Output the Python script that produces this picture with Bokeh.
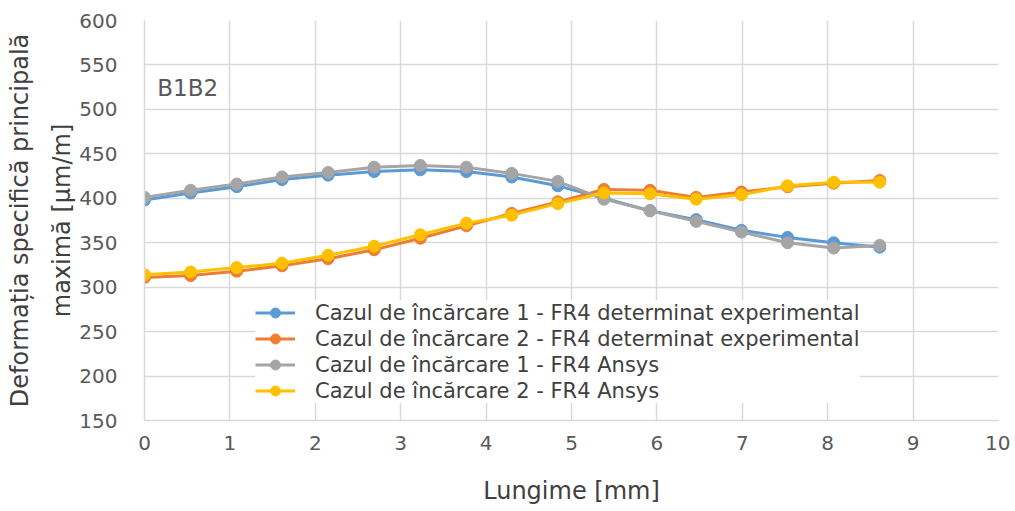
from bokeh.plotting import figure
from bokeh.models import Range1d, Label, SingleIntervalTicker, Legend, LegendItem
from bokeh.embed import file_html
from bokeh.resources import INLINE

# Data
x_mm = [0, 0.54, 1.08, 1.61, 2.15, 2.69, 3.23, 3.77, 4.30, 4.84, 5.38, 5.92, 6.46, 6.99, 7.53, 8.07, 8.61]
exp_case1 = [398, 406, 413, 421, 426, 430, 432, 430, 424, 414, 400, 386, 376, 364, 356, 350, 345]
exp_case2 = [311, 313, 318, 324, 332, 342, 355, 369, 383, 396, 410, 409, 401, 407, 413, 417, 420]
ansys_case1 = [401, 409, 416, 424, 429, 435, 437, 435, 428, 419, 399, 386, 374, 362, 350, 344, 347]
ansys_case2 = [314, 317, 322, 327, 336, 346, 359, 372, 381, 394, 406, 405, 399, 404, 414, 418, 418]

labels = [
    "Cazul de încărcare 1 - FR4 determinat experimental",
    "Cazul de încărcare 2 - FR4 determinat experimental",
    "Cazul de încărcare 1 - FR4 Ansys",
    "Cazul de încărcare 2 - FR4 Ansys",
]
colors = ["#5B9BD5", "#ED7D31", "#A5A5A5", "#FFC000"]
series = [exp_case1, exp_case2, ansys_case1, ansys_case2]

FONT = "DejaVu Sans"

p = figure(width=1010, height=508, output_backend="svg", toolbar_location=None,
           x_range=Range1d(0, 10), y_range=Range1d(150, 600),
           min_border_left=144, min_border_right=12, min_border_top=20, min_border_bottom=88)
p.outline_line_color = None
p.background_fill_color = "white"
p.border_fill_color = "white"

for ax in (p.xaxis[0], p.yaxis[0]):
    ax.axis_line_color = "#D9D9D9"
    ax.axis_line_width = 1.5
    ax.major_tick_line_color = None
    ax.minor_tick_line_color = None
    ax.major_label_text_font = FONT
    ax.major_label_text_font_size = "20px"
    ax.major_label_text_color = "#595959"
    ax.axis_label_text_font = FONT
    ax.axis_label_text_font_size = "24px"
    ax.axis_label_text_font_style = "normal"
    ax.axis_label_text_color = "#404040"

p.xaxis.ticker = SingleIntervalTicker(interval=1)
p.yaxis.ticker = SingleIntervalTicker(interval=50)
p.xaxis.major_label_standoff = 9
p.yaxis.major_label_standoff = 21
p.xaxis.axis_label = "Lungime [mm]"
p.xaxis.axis_label_standoff = 24
p.yaxis.axis_label = "Deformația specifică principală\nmaximă [µm/m]"
p.yaxis.axis_label_text_line_height = 1.5
p.yaxis.axis_label_standoff = 0

p.xgrid.ticker = SingleIntervalTicker(interval=1)
p.ygrid.ticker = SingleIntervalTicker(interval=50)
for g in (p.xgrid[0], p.ygrid[0]):
    g.grid_line_color = "#D9D9D9"
    g.grid_line_width = 1.5

items = []
for ys, c, lab in zip(series, colors, labels):
    r1 = p.line(x_mm, ys, line_color=c, line_width=3)
    r2 = p.scatter(x_mm, ys, size=12, fill_color=c, line_color=c, marker="circle")
    items.append(LegendItem(label=lab, renderers=[r1, r2]))

legend = Legend(items=items, location=(111, 17))
legend.label_text_font = FONT
legend.label_text_font_size = "21px"
legend.label_text_color = "#404040"
legend.glyph_width = 40
legend.glyph_height = 25
legend.label_height = 25
legend.label_standoff = 20
legend.spacing = 1
legend.padding = 10
legend.margin = 0
legend.border_line_color = None
legend.background_fill_color = "white"
legend.background_fill_alpha = 1.0
p.add_layout(legend, "center")

p.add_layout(Label(x=0.15, y=524, text="B1B2", text_font=FONT, text_font_size="23px",
                   text_color="#595959", text_baseline="middle"))

open("out.html", "w").write(file_html(p, INLINE))
